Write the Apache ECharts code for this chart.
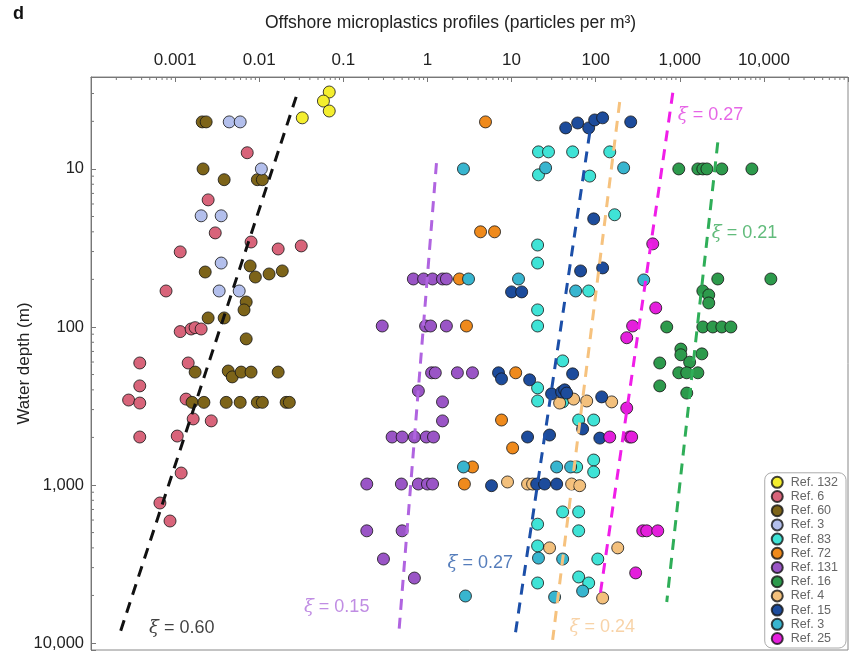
<!DOCTYPE html>
<html lang="en">
<head>
<meta charset="UTF-8">
<title>Offshore microplastics profiles</title>
<script src="https://cdn.jsdelivr.net/npm/echarts@6.0.0/dist/echarts.min.js"></script>
<style>
  html, body { margin: 0; padding: 0; background: #fff; }
  #chart { width: 854px; height: 659px; }
</style>
</head>
<body>
<div id="chart"></div>
<script>
// [particles per m3, water depth in m]
const ref132 = [[0.068, 3.26], [0.058, 3.72], [0.068, 4.3], [0.0325, 4.75]]
const ref6 = [[0.0072, 7.9], [0.00247, 15.7], [0.003, 25.4], [0.008, 29], [0.00115, 33.5], [0.0168, 32.1], [0.0316, 30.7],
  [0.00078, 59.2], [0.00115, 107], [0.00155, 103], [0.00173, 101], [0.00204, 103], [0.00038, 169], [0.00143, 169],
  [0.00028, 290], [0.00038, 303], [0.00135, 286], [0.00038, 236], [0.00164, 382], [0.00269, 393], [0.00038, 497],
  [0.00106, 490], [0.00118, 840], [0.00066, 1300], [0.00087, 1690]]
const ref60 = [[0.0021, 5.04], [0.00234, 5.04], [0.00215, 10], [0.00383, 11.7], [0.0095, 11.7], [0.0109, 11.7],
  [0.00228, 44.9], [0.0078, 41.1], [0.009, 48.3], [0.0131, 46.2], [0.0188, 44.2], [0.007, 69.5], [0.0066, 78],
  [0.00247, 87.7], [0.00383, 87.7], [0.007, 119], [0.00173, 193], [0.00428, 190], [0.00478, 207], [0.0061, 193],
  [0.008, 193], [0.0168, 193], [0.00159, 300], [0.0022, 300], [0.00405, 300], [0.00594, 300], [0.0095, 300],
  [0.0109, 300], [0.0209, 300], [0.0228, 300]]
const ref3a = [[0.0044, 5.04], [0.00594, 5.04], [0.0106, 10], [0.00204, 19.8], [0.00353, 19.8], [0.00353, 39.4],
  [0.00334, 59.2], [0.00578, 59.2]]
const ref83 = [[20.9, 7.8], [27.5, 7.8], [53.2, 7.8], [147, 7.8], [20.9, 10.9], [84.9, 11.1], [168, 19.5], [20.4, 30.3],
  [20.4, 39.4], [82.6, 59.2], [20.4, 78], [20.4, 98.6], [20.4, 243], [20.4, 294], [40.5, 164], [40.5, 298], [62.8, 388],
  [94.7, 388], [59.4, 769], [94.7, 695], [94.7, 827], [40.5, 1480], [62.8, 1480], [20.4, 1770], [62.8, 1950],
  [20.4, 2430], [106, 2940], [62.8, 3820], [82.6, 4170], [20.4, 4170]]
const ref72 = [[4.9, 5.04], [4.28, 25], [6.28, 25], [2.4, 49.7], [2.91, 98.6], [11.2, 195], [7.6, 388], [10.3, 583],
  [3.43, 769], [2.75, 986]]
const ref131 = [[0.68, 49.7], [0.9, 49.7], [1.15, 49.7], [1.51, 49.7], [1.68, 49.7], [0.29, 98.6], [0.95, 98.6],
  [1.09, 98.6], [1.68, 98.6], [1.12, 195], [1.24, 195], [2.27, 195], [3.43, 195], [0.78, 254], [1.51, 298], [1.51, 393],
  [0.38, 497], [0.5, 497], [0.7, 497], [0.97, 497], [1.18, 497], [0.19, 986], [0.49, 986], [0.78, 986], [1.0, 986],
  [1.15, 986], [0.19, 1950], [0.5, 1950], [0.3, 2940], [0.7, 3880]]
const ref16 = [[973, 10], [1640, 10], [1880, 10], [2100, 10], [3160, 10], [7200, 10], [2830, 49.7], [12100, 49.7],
  [1880, 59.2], [2210, 62.7], [2210, 70.5], [700, 100], [1880, 100], [2470, 100], [3160, 100], [4050, 100],
  [1030, 138], [1030, 150], [1310, 167], [1830, 148], [973, 195], [1210, 195], [1640, 195], [578, 169], [578, 236],
  [1210, 262]]
const ref4 = [[8.95, 957], [15.5, 986], [17.8, 986], [51.8, 986], [64.5, 1010], [37.3, 303], [54.7, 286], [78.2, 294],
  [155, 298], [28.3, 2500], [183, 2500], [121, 5190]]
const ref15 = [[44, 5.5], [61.1, 5.12], [82.6, 5.5], [97.3, 4.9], [121, 4.75], [261, 5.04], [94.7, 20.7], [66.2, 44.2],
  [121, 42.3], [10, 60], [13.2, 60], [7.0, 195], [7.6, 213], [16.4, 216], [15.5, 497], [5.78, 1010], [19.9, 986],
  [24.7, 986], [34.4, 986], [53.2, 198], [29.9, 265], [39.4, 258], [42.8, 250], [45.2, 262], [118, 277], [70, 442],
  [28.3, 483], [112, 505]]
const ref3b = [[2.68, 10], [12.1, 49.7], [3.08, 49.7], [25.4, 9.85], [215, 9.85], [373, 50.4], [57.8, 59.2],
  [2.68, 769], [2.83, 5040], [20.9, 2900], [70, 4690], [32.5, 5120], [34.4, 769], [50.4, 769], [40.5, 2940]]
const ref25 = [[477, 29.8], [518, 75.8], [275, 98.6], [234, 117], [234, 326], [147, 497], [254, 497], [268, 497],
  [363, 1950], [405, 1950], [547, 1950], [299, 3600]]

// power-law fits, end points
const fit060 = [[0.0275, 3.5], [0.000215, 9040]]
const fit015 = [[1.28, 9.2], [0.46, 8280]]
const fit027b = [[85, 5.9], [10.9, 9290]]
const fit024 = [[193, 3.77], [30.8, 9550]]
const fit027m = [[826, 3.3], [112, 5120]]
const fit021 = [[2830, 6.8], [700, 5500]]

// fit annotations: [x, depth, xi]
const fitLabels = [[0.00049, 8040, '0.60'], [0.034, 5920, '0.15'], [1.73, 3120, '0.27'], [49, 7920, '0.24'],
  [946, 4.55, '0.27'], [2400, 25.4, '0.21']]

const X_MIN = 1e-4, X_MAX = 1e5
const Y_MIN = 2.62, Y_MAX = 11070

const refs = [
  ['Ref. 132', ref132, '#f4ee2e'],
  ['Ref. 6', ref6, '#d8647a'],
  ['Ref. 60', ref60, '#7d6419'],
  ['Ref. 3', ref3a, '#b3bfec'],
  ['Ref. 83', ref83, '#3fe3d6'],
  ['Ref. 72', ref72, '#ef8a1c'],
  ['Ref. 131', ref131, '#9a55c6'],
  ['Ref. 16', ref16, '#2d9a4c'],
  ['Ref. 4', ref4, '#f3c07c'],
  ['Ref. 15', ref15, '#1d4c9c'],
  ['Ref. 3 ', ref3b, '#38b5cf'],
  ['Ref. 25', ref25, '#e41fdc']
]
const fits = [
  [fit060, '#111111'], [fit015, '#b064e0'], [fit027b, '#1c4fa8'],
  [fit024, '#f6c27e'], [fit027m, '#f01ee8'], [fit021, '#2fae58']
]
const labelColors = ['#111111', '#b070dc', '#2a5caa', '#f6c892', '#e040e0', '#3aaa5a']

// minor ticks (x: usual 2..9 per decade, y: mirrored like in the original figure)
const minorX = [], minorY = []
for (let e = -4; e < 5; e++) {
  for (let m = 2; m < 10; m++) minorX.push([m * Math.pow(10, e), Y_MIN])
}
for (let e = 0; e < 5; e++) {
  for (let m = 2; m < 10; m++) {
    const v = Math.pow(10, e + 1) / m
    if (v > Y_MIN && v < Y_MAX) minorY.push([X_MIN, v])
  }
}

function fmtPow(v, lo, hi) {
  const l = Math.log10(v)
  const r = Math.round(l)
  if (Math.abs(l - r) > 1e-6 || r < lo || r > hi) return ''
  return Math.pow(10, r).toLocaleString('en-US', { maximumFractionDigits: 4 })
}

const font = 'Liberation Sans, Arial, sans-serif'
const chart = echarts.init(document.getElementById('chart'))

const series = []
refs.forEach(r => {
  series.push({
    name: r[0],
    type: 'scatter',
    data: r[1],
    symbolSize: 12,
    itemStyle: { color: r[2], borderColor: 'rgba(20,20,20,0.8)', borderWidth: 1, opacity: 1 },
    z: 2
  })
})
fits.forEach(f => {
  series.push({
    type: 'line',
    data: f[0],
    symbol: 'none',
    lineStyle: { color: f[1], width: 3, type: [11, 8] },
    silent: true,
    z: 3
  })
})
series.push({
  type: 'scatter',
  symbolSize: 0,
  silent: true,
  z: 4,
  data: fitLabels.map((d, i) => ({
    value: [d[0], d[1]],
    name: d[2],
    label: { color: labelColors[i] }
  })),
  label: {
    show: true,
    position: 'right',
    distance: 0,
    fontSize: 18,
    fontFamily: font,
    formatter: p => '{g|ξ} = ' + p.name,
    rich: { g: { fontStyle: 'italic', fontFamily: 'DejaVu Serif, serif', fontSize: 18 } }
  }
})
series.push({
  type: 'custom',
  silent: true,
  data: minorX,
  renderItem: (params, api) => {
    const p = api.coord([api.value(0), api.value(1)])
    return { type: 'line', shape: { x1: p[0], y1: p[1], x2: p[0], y2: p[1] + 3 }, style: { stroke: '#777', lineWidth: 1 } }
  }
})
series.push({
  type: 'custom',
  silent: true,
  data: minorY,
  renderItem: (params, api) => {
    const p = api.coord([api.value(0), api.value(1)])
    return { type: 'line', shape: { x1: p[0], y1: p[1], x2: p[0] + 3, y2: p[1] }, style: { stroke: '#777', lineWidth: 1 } }
  }
})

chart.setOption({
  animation: false,
  title: [
    { text: 'd', left: 8, top: 0, textStyle: { fontSize: 18, fontWeight: 'bold', color: '#111', fontFamily: font } },
    { text: 'Offshore microplastics profiles (particles per m³)', left: 260, top: 9,
      textStyle: { fontSize: 17.5, fontWeight: 'normal', color: '#222', fontFamily: font } }
  ],
  grid: { left: 91, right: 6, top: 77, bottom: 9, show: true, borderColor: '#888', borderWidth: 1 },
  legend: {
    orient: 'vertical',
    right: 8,
    bottom: 11,
    data: refs.map(r => r[0]),
    icon: 'circle',
    itemWidth: 11,
    itemHeight: 11,
    itemGap: 1.2,
    padding: [3, 8, 3, 6],
    borderColor: '#aaa',
    borderWidth: 1,
    borderRadius: 7,
    backgroundColor: '#fff',
    textStyle: { fontSize: 12.5, color: '#666', fontFamily: font, padding: [0, 0, 0, 3] },
    selectedMode: false
  },
  xAxis: {
    type: 'log',
    position: 'top',
    min: X_MIN,
    max: X_MAX,
    axisLine: { lineStyle: { color: '#777' } },
    axisTick: { inside: true, length: 5, lineStyle: { color: '#777' } },
    axisLabel: { margin: 8, fontSize: 17, color: '#222', fontFamily: font, formatter: v => fmtPow(v, -3, 4) },
    splitLine: { show: false }
  },
  yAxis: {
    type: 'log',
    inverse: true,
    min: Y_MIN,
    max: Y_MAX,
    name: 'Water depth (m)',
    nameLocation: 'middle',
    nameGap: 58,
    nameMoveOverlap: false,
    nameTextStyle: { fontSize: 17, color: '#222', fontFamily: font },
    axisLine: { lineStyle: { color: '#777' } },
    axisTick: { inside: true, length: 5, lineStyle: { color: '#777' } },
    axisLabel: { margin: 7, fontSize: 16.5, color: '#222', fontFamily: font, formatter: v => fmtPow(v, 1, 4) },
    splitLine: { show: false }
  },
  series: series
})
</script>
</body>
</html>
